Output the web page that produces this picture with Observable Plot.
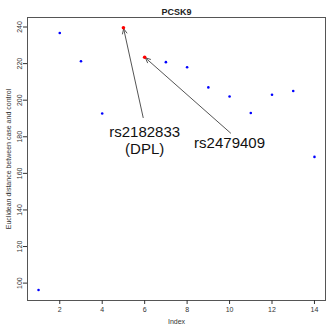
<!DOCTYPE html>
<html><head><meta charset="utf-8">
<script src="https://cdn.jsdelivr.net/npm/d3@7"></script>
<script src="https://cdn.jsdelivr.net/npm/@observablehq/plot@0.6"></script>
<style>body{margin:0;background:#fff;} svg{font-family:"Liberation Sans",Arial,sans-serif;}</style>
</head><body><div id="chart"></div>
<script>
const title = "PCSK9";
const xLabel = "Index";
const yLabel = "Euclidean distance between case and control";
const index = [1,2,3,4,5,6,7,8,9,10,11,12,13,14];
const distance = [96.2,236.7,221.3,192.7,239.6,223.5,220.8,218.0,207.0,202.0,193.0,203.0,205.0,169.0];
const highlighted = [5,6];
const xTicks = [2,4,6,8,10,12,14];
const yTicks = [100,120,140,160,180,200,220,240];
const labelText = ["rs2182833\n(DPL)","rs2479409"];
const labelX = [6,10];
const labelY = [178,177];
const arrowFromX = [5.93,10.05];
const arrowFromY = [190.5,182];

const pts = index.map((x,i)=>({x, y: distance[i], hi: highlighted.includes(x)}));
const labels = labelText.map((t,i)=>({t, x: labelX[i], y: labelY[i]}));
const arrows = highlighted.map((h,i)=>({x1: arrowFromX[i], y1: arrowFromY[i], x2: h, y2: distance[h-1]}));

const chart = Plot.plot({
  width: 327, height: 327,
  marginLeft: 27, marginRight: 2, marginTop: 17, marginBottom: 27,
  style: {fontFamily: '"Liberation Sans",Arial,sans-serif', background: "#fff"},
  x: {domain: [0.48, 14.52]},
  y: {domain: [90.5, 245.2]},
  marks: [
    Plot.frame({stroke: "#555"}),
    Plot.axisX({ticks: xTicks, tickSize: 4, tickPadding: 3, fontSize: 7, color: "#333", label: null}),
    Plot.axisY({ticks: yTicks, tickSize: 4, tickPadding: 2, fontSize: 7, color: "#333", tickRotate: -90, label: null}),
    Plot.text([xLabel], {frameAnchor: "bottom", dy: 23, fontSize: 7, fill: "#333"}),
    Plot.text([yLabel], {frameAnchor: "left", dx: -19, rotate: -90, textAnchor: "middle", fontSize: 7, fill: "#333"}),
    Plot.text([title], {frameAnchor: "top", dy: -9, fontSize: 9, fontWeight: "bold", fill: "#222"}),
    Plot.arrow(arrows, {x1: "x1", y1: "y1", x2: "x2", y2: "y2", stroke: "#555", strokeWidth: 1, headLength: 8, headAngle: 50, insetEnd: 1}),
    Plot.dot(pts.filter(d=>!d.hi), {x: "x", y: "y", r: 1.3, fill: "blue", stroke: "none"}),
    Plot.dot(pts.filter(d=>d.hi), {x: "x", y: "y", r: 1.8, fill: "red", stroke: "none"}),
    Plot.text(labels, {x: "x", y: "y", text: "t", fontSize: 15, fill: "#111", lineHeight: 1.1})
  ]
});
document.getElementById("chart").appendChild(chart);
</script></body></html>
